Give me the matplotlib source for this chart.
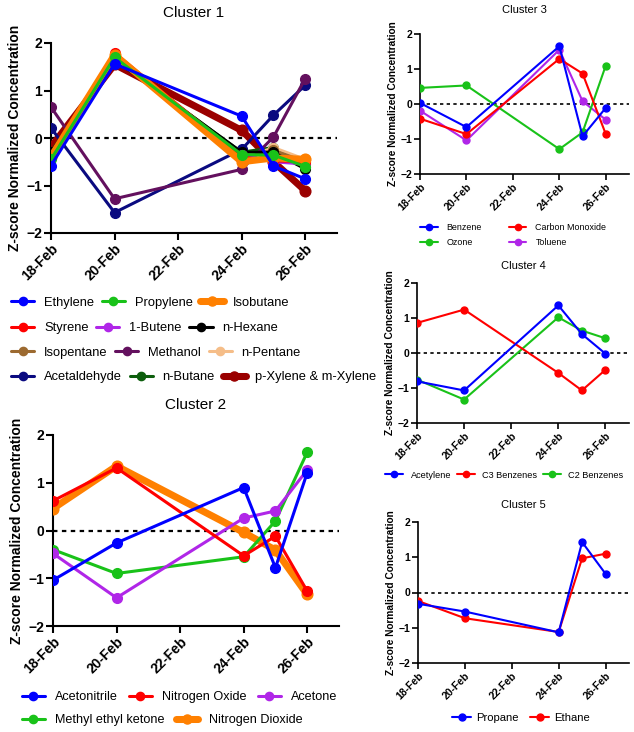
import matplotlib
matplotlib.use("Agg")
import matplotlib.pyplot as plt
import matplotlib.dates as mdates
import numpy as np
import pandas as pd

plt.rcParams['font.family'] = ['Liberation Sans', 'DejaVu Sans']

dates = pd.to_datetime(["2020-02-18", "2020-02-20", "2020-02-24", "2020-02-25", "2020-02-26"])
tick_dates = pd.to_datetime(["2020-02-18", "2020-02-20", "2020-02-22", "2020-02-24", "2020-02-26"])
x_end = pd.Timestamp("2020-02-27")

# cluster 1
c1_names = ["Ethylene", "Propylene", "Isobutane", "Styrene", "1-Butene", "n-Hexane",
            "Isopentane", "Methanol", "n-Pentane", "Acetaldehyde", "n-Butane", "p-Xylene & m-Xylene"]
c1_colors = ["#0000ff", "#19c219", "#ff8000", "#ff0000", "#b026e8", "#000000",
             "#9c6a30", "#63105e", "#f5bd88", "#0a0a80", "#0d5e0d", "#9a0000"]
c1_thick = [False, False, True, False, False, False, False, False, False, False, False, True]
ethylene = [-0.58, 1.56, 0.46, -0.59, -0.86]
propylene = [-0.45, 1.70, -0.35, -0.36, -0.60]
isobutane = [-0.40, 1.75, -0.50, -0.42, -0.45]
styrene = [-0.37, 1.79, -0.40, -0.48, -0.50]
butene1 = [-0.40, 1.70, -0.36, -0.50, -0.55]
n_hexane = [-0.30, 1.65, -0.30, -0.30, -0.65]
isopentane = [-0.35, 1.70, -0.45, -0.26, -0.50]
methanol = [0.65, -1.28, -0.66, 0.02, 1.25]
n_pentane = [-0.35, 1.70, -0.45, -0.20, -0.45]
acetaldehyde = [0.21, -1.57, -0.24, 0.48, 1.11]
n_butane = [-0.30, 1.65, -0.30, -0.20, -0.60]
xylenes = [-0.19, 1.55, 0.16, -0.50, -1.11]
c1_values = [ethylene, propylene, isobutane, styrene, butene1, n_hexane,
             isopentane, methanol, n_pentane, acetaldehyde, n_butane, xylenes]

# cluster 2
c2_names = ["Acetonitrile", "Nitrogen Oxide", "Acetone", "Methyl ethyl ketone", "Nitrogen Dioxide"]
c2_colors = ["#0000ff", "#ff0000", "#b026e8", "#19c219", "#ff8000"]
c2_thick = [False, False, False, False, True]
acetonitrile = [-1.04, -0.26, 0.90, -0.78, 1.21]
nitrogen_oxide = [0.62, 1.31, -0.53, -0.12, -1.27]
acetone = [-0.48, -1.41, 0.26, 0.41, 1.27]
mek = [-0.40, -0.90, -0.55, 0.20, 1.64]
nitrogen_dioxide = [0.46, 1.35, -0.04, -0.41, -1.34]
c2_values = [acetonitrile, nitrogen_oxide, acetone, mek, nitrogen_dioxide]

# cluster 3
c3_names = ["Benzene", "Carbon Monoxide", "Ozone", "Toluene"]
c3_colors = ["#0000ff", "#ff0000", "#19c219", "#b026e8"]
benzene = [0.03, -0.66, 1.65, -0.92, -0.11]
carbon_monoxide = [-0.42, -0.86, 1.29, 0.87, -0.86]
ozone = [0.46, 0.53, -1.29, -0.81, 1.10]
toluene = [-0.19, -1.04, 1.55, 0.08, -0.45]
c3_values = [benzene, carbon_monoxide, ozone, toluene]

# cluster 4
c4_names = ["Acetylene", "C3 Benzenes", "C2 Benzenes"]
c4_colors = ["#0000ff", "#ff0000", "#19c219"]
acetylene = [-0.81, -1.07, 1.36, 0.54, -0.02]
c3_benzenes = [0.86, 1.24, -0.57, -1.07, -0.48]
c2_benzenes = [-0.76, -1.33, 1.02, 0.64, 0.42]
c4_values = [acetylene, c3_benzenes, c2_benzenes]

# cluster 5
c5_names = ["Propane", "Ethane"]
c5_colors = ["#0000ff", "#ff0000"]
propane = [-0.32, -0.54, -1.13, 1.43, 0.53]
ethane = [-0.24, -0.73, -1.12, 0.97, 1.10]
c5_values = [propane, ethane]

W, H = 634, 732
fig = plt.figure(figsize=(W / 100, H / 100), dpi=100)


def fr(l, t, r, b):
  return [l / W, 1 - b / H, (r - l) / W, (b - t) / H]


def draw_panel(rect, title, names, values, colors, thick, sz):
  ax = fig.add_axes(rect)
  lw, ms = sz["lw"], sz["ms"]
  n = len(names)
  handles = [None] * n
  for i in range(n - 1, -1, -1):
    w = lw * 2.3 if thick[i] else lw
    m = ms * 1.1 if thick[i] else ms
    z = 3 + (n - i) * 0.01
    h, = ax.plot(dates, values[i], color=colors[i], lw=w, marker="o", ms=m,
                 label=names[i], solid_capstyle="round", zorder=z)
    handles[i] = h
  ax.axhline(0, color="black", lw=sz["zlw"], ls=(0, (2, 2)), zorder=2)
  ax.set_xlim(dates[0], x_end)
  ax.set_ylim(-2, 2)
  ax.set_yticks([-2, -1, 0, 1, 2])
  ax.set_xticks(tick_dates)
  ax.xaxis.set_major_formatter(mdates.DateFormatter("%d-%b"))
  for s in ["top", "right"]:
    ax.spines[s].set_visible(False)
  for s in ["left", "bottom"]:
    ax.spines[s].set_linewidth(sz["slw"])
  ax.tick_params(width=sz["slw"], length=sz["tl"], labelsize=sz["tfs"], pad=1.5)
  for lab in ax.get_xticklabels() + ax.get_yticklabels():
    lab.set_fontweight("bold")
  for lab in ax.get_xticklabels():
    lab.set_rotation(45)
    lab.set_ha("right")
    lab.set_rotation_mode("anchor")
  ax.set_title(title, fontsize=sz["title"], pad=sz["tpad"])
  ax.set_ylabel("Z-score Normalized Concentration", fontsize=sz["yfs"], fontweight="bold", labelpad=sz["ypad"])
  return ax, handles


def row_legend(handles, names, idx, x, y, fs, **kw):
  # one legend per row so every row flows on its own like the original
  fig.legend([handles[i] for i in idx], [names[i] for i in idx], ncol=len(idx), frameon=False,
             loc="center left", bbox_to_anchor=(x / W, 1 - y / H), fontsize=fs,
             borderaxespad=0, borderpad=0, **kw)


big = dict(lw=2.2, ms=7.0, zlw=1.6, slw=1.5, tl=5, tfs=10, title=11, tpad=19, yfs=10, ypad=3)
small = dict(lw=1.5, ms=5.0, zlw=1.2, slw=1.2, tl=4, tfs=7.5, title=8, tpad=15, yfs=7.3, ypad=2)

ax1, h1 = draw_panel(fr(51, 43, 337, 233), "Cluster 1", c1_names, c1_values, c1_colors, c1_thick, big)
leg1 = dict(handlelength=1.8, handletextpad=0.75, columnspacing=0.6, markerscale=0.85)
for r, y in enumerate([303, 328, 353, 377]):
  row_legend(h1, c1_names, [3 * r, 3 * r + 1, 3 * r + 2], 11, y, 9.3, **leg1)

ax2, h2 = draw_panel(fr(53, 435, 339, 626), "Cluster 2", c2_names, c2_values, c2_colors, c2_thick, big)
leg2 = dict(handlelength=1.8, handletextpad=0.8, columnspacing=0.9, markerscale=0.85)
row_legend(h2, c2_names, [0, 1, 2], 22, 697, 9.1, **leg2)
row_legend(h2, c2_names, [3, 4], 22, 720, 9.1, **leg2)

s3 = dict(small)
ax3, h3 = draw_panel(fr(420, 34, 629, 174), "Cluster 3", c3_names, c3_values, c3_colors, [False] * 4, s3)
fig.legend([h3[0], h3[2], h3[1], h3[3]], [c3_names[0], c3_names[2], c3_names[1], c3_names[3]],
           ncol=2, frameon=False, loc="center left", bbox_to_anchor=(420 / W, 1 - 235 / H), fontsize=6.4,
           borderaxespad=0, borderpad=0, handlelength=2.0, handletextpad=1.0, columnspacing=3.0,
           labelspacing=0.75, markerscale=0.9)

s4 = dict(small)
s4["tpad"] = 10
ax4, h4 = draw_panel(fr(417, 283, 629, 423), "Cluster 4", c4_names, c4_values, c4_colors, [False] * 3, s4)
row_legend(h4, c4_names, [0, 1, 2], 385, 475, 6.6, handlelength=2.0, handletextpad=0.8, columnspacing=0.6,
           markerscale=0.9)

s5 = dict(small)
s5["tpad"] = 10
ax5, h5 = draw_panel(fr(418, 522, 629, 663), "Cluster 5", c5_names, c5_values, c5_colors, [False] * 2, s5)
row_legend(h5, c5_names, [0, 1], 452, 718, 8.1, handlelength=1.7, handletextpad=0.45, columnspacing=1.0,
           markerscale=1.0)

fig.savefig("out.png", dpi=100)
